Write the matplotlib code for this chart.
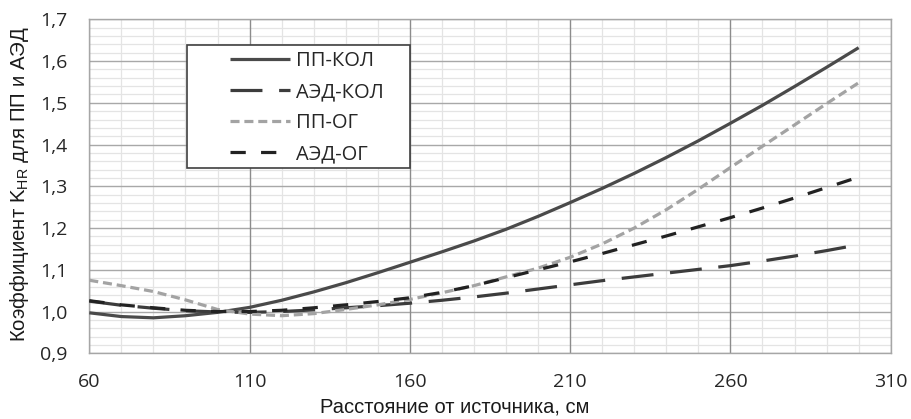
import matplotlib
matplotlib.use("Agg")
import matplotlib.pyplot as plt
from matplotlib.ticker import MultipleLocator, FixedLocator
from matplotlib.patches import Rectangle

plt.rcParams['lines.scale_dashes'] = False
plt.rcParams['mathtext.fontset'] = 'custom'
plt.rcParams['mathtext.rm'] = 'Liberation Sans'

# ---- data ----
distance = [60, 70, 80, 90, 100, 110, 120, 130, 140, 150, 160, 170, 180,
            190, 200, 210, 220, 230, 240, 250, 260, 270, 280, 290, 300]
pp_kol = [0.997, 0.988, 0.985, 0.990, 0.998, 1.010, 1.027, 1.047, 1.069, 1.093,
          1.118, 1.143, 1.169, 1.197, 1.228, 1.261, 1.295, 1.331, 1.369, 1.409,
          1.451, 1.494, 1.539, 1.585, 1.632]
aed_kol = [1.025, 1.015, 1.008, 1.002, 0.999, 0.998, 1.000, 1.004, 1.009, 1.014,
           1.020, 1.027, 1.035, 1.044, 1.054, 1.064, 1.074, 1.083, 1.092, 1.101,
           1.110, 1.121, 1.133, 1.146, 1.160]
pp_og = [1.075, 1.062, 1.048, 1.028, 1.005, 0.994, 0.990, 0.995, 1.005, 1.016,
         1.029, 1.045, 1.062, 1.083, 1.104, 1.130, 1.162, 1.200, 1.244, 1.293,
         1.345, 1.396, 1.447, 1.498, 1.548]
aed_og = [1.026, 1.016, 1.009, 1.003, 1.000, 1.000, 1.003, 1.009, 1.016, 1.024,
          1.033, 1.046, 1.062, 1.081, 1.100, 1.119, 1.139, 1.160, 1.181, 1.203,
          1.225, 1.248, 1.272, 1.297, 1.322]

series_labels = ['ПП-КОЛ', 'АЭД-КОЛ', 'ПП-ОГ', 'АЭД-ОГ']
xticks = [60, 110, 160, 210, 260, 310]
xtick_labels = ['60', '110', '160', '210', '260', '310']
yticks = [0.9, 1.0, 1.1, 1.2, 1.3, 1.4, 1.5, 1.6, 1.7]
ytick_labels = ['0,9', '1,0', '1,1', '1,2', '1,3', '1,4', '1,5', '1,6', '1,7']
xlabel = 'Расстояние от источника, см'
ylabel = r'Коэффициент K$_\mathregular{HR}$ для ПП и АЭД'

# ---- figure ----
W, H = 911, 419
fig = plt.figure(figsize=(W / 100, H / 100), dpi=100)
L, R, T, B = 89.3, 890.7, 19.3, 353.3
ax = fig.add_axes([L / W, 1 - B / H, (R - L) / W, (B - T) / H])

ax.set_xlim(60, 310)
ax.set_ylim(0.9, 1.7)

ax.xaxis.set_major_locator(FixedLocator(xticks))
ax.yaxis.set_major_locator(FixedLocator(yticks))
ax.set_xticklabels(xtick_labels)
ax.set_yticklabels(ytick_labels)
ax.xaxis.set_minor_locator(MultipleLocator(10))
ax.yaxis.set_minor_locator(MultipleLocator(0.02))

# minor grid (drawn by axes, lowest)
ax.grid(which='minor', color='#e4e4e4', linewidth=0.9)
ax.set_axisbelow(True)
# major grid on top of minor grid
for yv in yticks:
    ax.axhline(yv, color='#a8a8a8', linewidth=1.0, zorder=0.7)
for xv in xticks:
    ax.axvline(xv, color='#8c8c8c', linewidth=1.0, zorder=0.8)

for s in ax.spines.values():
    s.set_color('#a6a6a6')
    s.set_linewidth(1.0)

ax.tick_params(which='both', length=0)
ax.tick_params(axis='y', pad=16, labelsize=14, labelcolor='#262626')
ax.tick_params(axis='x', pad=14, labelsize=14, labelcolor='#262626')
for lab in ax.get_xticklabels() + ax.get_yticklabels():
    lab.set_family('Open Sans')

lw = 2.3
ax.plot(distance, pp_kol, color='#4a4a4a', lw=lw, label=series_labels[0],
        solid_capstyle='butt', zorder=3)
ax.plot(distance, aed_kol, color='#3c3c3c', lw=lw, label=series_labels[1],
        linestyle=(0, (23, 12)), dash_capstyle='butt', zorder=3)
ax.plot(distance, pp_og, color='#a3a3a3', lw=lw, label=series_labels[2],
        linestyle=(0, (6.5, 3.5)), dash_capstyle='butt', zorder=3)
ax.plot(distance, aed_og, color='#222222', lw=lw, label=series_labels[3],
        linestyle=(0, (11, 11)), dash_capstyle='butt', zorder=3)

# legend box (figure pixel geometry) + frameless legend inside
box = Rectangle((187 / W, 1 - 168 / H), (410 - 187) / W, (168 - 45) / H,
                transform=fig.transFigure, facecolor='white', edgecolor='#404040',
                linewidth=1.2, zorder=4)
ax.add_patch(box)
box.set_clip_on(False)

leg = ax.legend(loc='upper left',
                bbox_to_anchor=((230 - L) / (R - L), 1 - (51 - T) / (B - T)),
                frameon=False, handlelength=3.0,
                handletextpad=0.3, labelspacing=0.55, borderpad=0,
                borderaxespad=0, prop={'family': 'Open Sans', 'size': 14.5})
leg.set_zorder(5)
for t in leg.get_texts():
    t.set_color('#262626')

fig.text(455 / W, 1 - 407 / H, xlabel, fontsize=14.5, family='Liberation Sans',
         color='#1a1a1a', ha='center', va='center')
fig.text(20 / W, 1 - 184 / H, ylabel, fontsize=14.7, family='Liberation Sans',
         color='#1a1a1a', ha='center', va='center', rotation=90)

fig.savefig('out.png', dpi=100)
